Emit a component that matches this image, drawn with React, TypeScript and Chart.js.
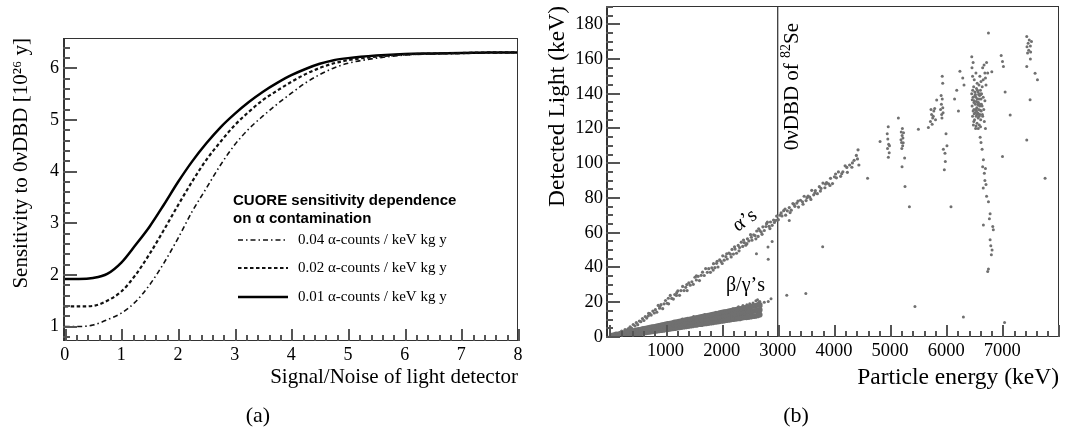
import React, { useEffect, useRef } from "react";
import { Chart, registerables } from "chart.js";

Chart.register(...registerables);

const SERIF = "'Liberation Serif', 'Times New Roman', serif";
const SANS = "'Liberation Sans', Arial, sans-serif";

// ---------------- Panel (a) ----------------
const SIGNAL_NOISE = [0, 0.25, 0.5, 0.75, 1, 1.25, 1.5, 1.75, 2, 2.25, 2.5, 2.75, 3, 3.25, 3.5, 3.75, 4, 4.25, 4.5, 4.75, 5, 5.5, 6, 6.5, 7, 7.5, 8];
const SENS_004 = [1.0, 1.0, 1.03, 1.13, 1.26, 1.48, 1.81, 2.23, 2.71, 3.23, 3.68, 4.13, 4.52, 4.83, 5.08, 5.31, 5.52, 5.72, 5.88, 6.01, 6.1, 6.2, 6.26, 6.28, 6.29, 6.3, 6.31];
const SENS_002 = [1.39, 1.39, 1.4, 1.5, 1.68, 2.0, 2.41, 2.87, 3.35, 3.81, 4.23, 4.58, 4.9, 5.16, 5.39, 5.57, 5.74, 5.89, 6.01, 6.1, 6.16, 6.23, 6.27, 6.29, 6.3, 6.31, 6.31];
const SENS_001 = [1.92, 1.92, 1.94, 2.02, 2.24, 2.58, 2.94, 3.36, 3.8, 4.2, 4.55, 4.86, 5.12, 5.35, 5.55, 5.72, 5.87, 5.99, 6.09, 6.16, 6.2, 6.25, 6.28, 6.29, 6.3, 6.31, 6.31];
const LEGEND_TITLE = ["CUORE sensitivity dependence", "on \u03b1 contamination"];
const LEGEND_LABELS = [
  "0.04 \u03b1-counts / keV kg y",
  "0.02 \u03b1-counts / keV kg y",
  "0.01 \u03b1-counts / keV kg y",
];
const A_X_TICKS = [0, 1, 2, 3, 4, 5, 6, 7, 8];
const A_Y_TICKS = [1, 2, 3, 4, 5, 6];

// ---------------- Panel (b) ----------------
const BG_ENERGY = [40, 80, 120, 160, 200, 240, 280, 320, 360, 400, 440, 480, 520, 560, 600, 640, 680, 720, 760, 800, 840, 880, 920, 960, 1000, 1040, 1080, 1120, 1160, 1200, 1240, 1280, 1320, 1360, 1400, 1440, 1480, 1520, 1560, 1600, 1640, 1680, 1720, 1760, 1800, 1840, 1880, 1920, 1960, 2000, 2040, 2080, 2120, 2160, 2200, 2240, 2280, 2320, 2360, 2400, 2440, 2480, 2520, 2560, 2600, 2640, 2680];
const BG_LIGHT_LOW = [0.1, 0.0, 0.1, 0.3, 0.4, 0.5, 0.8, 1.0, 1.1, 1.4, 1.5, 1.8, 1.9, 2.2, 2.3, 2.6, 2.7, 2.9, 3.2, 3.3, 3.5, 3.8, 3.9, 4.1, 4.3, 4.5, 4.7, 4.9, 5.1, 5.2, 5.5, 5.6, 5.9, 6.1, 6.2, 6.5, 6.6, 6.9, 7.0, 7.3, 7.4, 7.7, 7.8, 8.0, 8.2, 8.4, 8.6, 8.8, 9.0, 9.2, 9.4, 9.6, 9.8, 10.0, 10.2, 10.4, 10.6, 10.7, 11.0, 11.2, 11.3, 11.6, 11.7, 12.0, 12.1, 12.4, 12.8];
const BG_LIGHT_MID = [0.3, 0.5, 0.6, 1.0, 1.2, 1.3, 1.7, 1.8, 2.2, 2.3, 2.6, 2.7, 3.1, 3.2, 3.5, 3.8, 3.9, 4.2, 4.5, 4.6, 4.9, 5.0, 5.4, 5.5, 5.8, 6.1, 6.2, 6.5, 6.8, 6.9, 7.2, 7.4, 7.7, 7.8, 8.2, 8.3, 8.6, 8.8, 9.1, 9.2, 9.6, 9.7, 10.0, 10.2, 10.5, 10.6, 10.9, 11.2, 11.3, 11.6, 11.8, 12.1, 12.3, 12.5, 12.8, 13.0, 13.2, 13.5, 13.7, 13.9, 14.2, 14.4, 14.6, 14.9, 15.1, 15.3, 15.6];
const BG_LIGHT_HIGH = [0.9, 1.1, 1.5, 1.6, 2.0, 2.3, 2.4, 2.8, 3.0, 3.3, 3.6, 3.8, 4.1, 4.3, 4.7, 4.8, 5.2, 5.4, 5.7, 5.9, 6.2, 6.5, 6.8, 7.0, 7.3, 7.6, 7.8, 8.1, 8.4, 8.6, 8.9, 9.2, 9.4, 9.7, 10.0, 10.2, 10.5, 10.8, 11.0, 11.3, 11.6, 11.9, 12.1, 12.4, 12.6, 12.9, 13.2, 13.4, 13.8, 14.0, 14.3, 14.5, 14.8, 15.1, 15.3, 15.6, 15.9, 16.1, 16.4, 16.7, 17.0, 17.2, 17.5, 17.8, 18.0, 18.4, 18.6];
const BG_EXTRA = [[2560, 19.5], [2610, 20.8], [2640, 21.5], [2660, 19.8], [2680, 20.5], [2500, 19.2], [2450, 18.6], [2380, 18.1], [2700, 17.5], [2690, 14], [2300, 17.4], [2200, 16.2], [2100, 15.3], [1900, 14.3], [1700, 12.9], [1500, 11.8], [1300, 10.4], [2590, 11.5], [2650, 12], [2480, 10.8]];

const ALPHA_BAND = [[150, 1.9], [185, 2.1], [220, 3.4], [250, 2.6], [280, 4.3], [310, 4.0], [340, 4.9], [370, 5.9], [395, 5.1], [425, 7.2], [455, 6.4], [480, 8.3], [505, 7.1], [535, 9.2], [560, 8.8], [590, 10.6], [615, 9.5], [640, 11.8], [665, 10.9], [695, 12.2], [720, 13.5], [745, 12.6], [775, 14.9], [800, 13.8],
  [820, 15.7], [845, 14.3], [870, 18.2], [895, 16.6], [920, 18.6], [950, 16.3], [975, 19.1], [1000, 21.0], [1030, 19.4], [1055, 19.1], [1085, 23.9], [1110, 22.2], [1140, 21.8], [1165, 24.4], [1195, 23.9], [1220, 26.6], [1250, 24.0], [1275, 26.7], [1305, 29.1], [1330, 26.7], [1360, 28.6], [1385, 26.7], [1415, 31.1], [1440, 29.8], [1470, 31.8], [1495, 30.3], [1525, 34.4], [1550, 32.8], [1580, 34.9], [1605, 32.5], [1635, 35.5], [1660, 37.3], [1690, 35.4], [1715, 39.4], [1745, 37.2], [1770, 39.3], [1800, 37.2], [1825, 39.8], [1855, 42.2], [1880, 39.9], [1910, 42.4], [1935, 40.3], [1965, 44.4], [1990, 43.4],
  [2020, 46.7], [2045, 44.2], [2075, 46.3], [2100, 44.9], [2130, 48.3], [2155, 47.7], [2185, 50.4], [2210, 47.7], [2240, 50.6], [2265, 48.2], [2295, 52.7], [2320, 51.5], [2350, 54.6], [2375, 52.1], [2405, 54.3], [2430, 52.8], [2460, 56.5], [2485, 55.3], [2515, 58.9], [2540, 55.7], [2570, 58.8], [2595, 58.4], [2625, 61.0], [2650, 57.9], [2680, 61.2], [2705, 60.4], [2735, 63.4], [2760, 61.3], [2790, 63.6], [2815, 66.1], [2845, 63.7], [2870, 66.2], [2900, 64.3], [2925, 67.3], [2955, 67.0], [2980, 69.6],
  [3010, 67.5], [3040, 70.1], [3075, 69.7], [3105, 72.7], [3140, 70.1], [3170, 72.6], [3205, 74.5], [3240, 73.0], [3270, 76.8], [3305, 75.2], [3340, 77.1], [3370, 74.8], [3405, 78.7], [3440, 77.8], [3470, 81.0], [3505, 78.5], [3540, 81.1], [3570, 80.5], [3605, 84.4], [3640, 81.8], [3670, 84.2], [3705, 82.5], [3740, 86.5], [3770, 85.5], [3805, 88.6], [3840, 85.9], [3870, 88.9], [3905, 88.2], [3940, 91.3], [3975, 88.3], [4010, 92.2], [4045, 91.6], [4080, 95.0], [4120, 92.5], [4160, 95.1], [4200, 98.5], [4240, 94.8], [4280, 99.0], [4320, 97.7], [4360, 101.7], [4400, 104.5], [4430, 107.7], [4445, 99.0],
  [1850, 38.5], [1920, 43.6], [2010, 42.3], [2090, 47.9], [2170, 46.1], [2230, 51.9], [2310, 49.6], [2390, 55.8], [2450, 53.7], [2530, 57.4], [2610, 56.5], [2660, 62.3], [2720, 59.1], [2800, 65.2], [2860, 62.4], [2940, 65.9], [2990, 67.3], [3060, 71.4], [3130, 73.6], [3220, 71.6], [3290, 76.3], [3360, 78.2], [3450, 76.4], [3520, 80.2], [3590, 79.2], [3660, 82.9], [3760, 84.0], [3850, 88.0], [3930, 87.2], [4030, 93.8], [4140, 94.0], [4230, 97.6], [4330, 100.2], [4420, 102.5], [1550, 35.2], [1380, 30.2], [1200, 25.5], [1050, 22.3], [900, 17.4], [700, 13.6]];
const STRAY_EVENTS = [[2620, 47.9], [2826, 51.8], [2830, 44.8], [2900, 55], [2760, 20], [2830, 20.5], [2880, 22], [3205, 67], [3160, 24], [3500, 25], [3800, 52], [4600, 91.4], [5444, 17.6], [6307, 11.5], [7040, 8.4], [7762, 91.4]];
const PEAK_5000 = [[4822, 112.5], [4968, 121], [4960, 114], [4975, 111], [4955, 108.5], [4985, 106], [4970, 103.5], [4990, 110], [4950, 117]];
const PEAK_5200 = [[5148, 126], [5200, 118], [5215, 116], [5230, 114.5], [5205, 112], [5225, 110], [5210, 108.5], [5240, 117.5], [5195, 113.5], [5220, 120], [5235, 111.8], [5214, 98], [5267, 86.6], [5345, 75], [5260, 103], [5505, 119.6], [5683, 120.6]];
const PEAK_5800 = [[5720, 124], [5740, 128], [5760, 126], [5750, 122.5], [5780, 130], [5770, 127], [5795, 131.5], [5810, 125], [5831, 136.4], [5730, 131], [5900, 131], [5915, 134], [5930, 137], [5920, 128], [5940, 132], [5925, 126], [5945, 129], [5910, 139], [5938, 146], [5930, 150], [5997, 117], [6014, 110], [5979, 105.8], [5967, 96.2], [6086, 75], [5950, 108], [5985, 101], [6188, 142], [6218, 130], [6295, 149], [6318, 145], [6150, 137], [6245, 153]];
const PEAK_6500 = [[6455, 140], [6462, 133], [6470, 127], [6478, 138], [6485, 122], [6490, 144], [6495, 131], [6500, 136], [6505, 125], [6510, 141], [6515, 129], [6520, 134], [6525, 120], [6530, 138], [6535, 127], [6540, 143], [6545, 132], [6550, 123], [6555, 137], [6560, 129], [6565, 141], [6570, 126], [6575, 135], [6580, 131], [6585, 145], [6590, 122], [6595, 139], [6600, 128], [6605, 134], [6610, 142], [6615, 125], [6620, 137], [6625, 130], [6630, 140], [6640, 133], [6650, 127], [6660, 138], [6670, 131], [6680, 124], [6690, 136], [6465, 136.5], [6480, 130], [6500, 128.5], [6512, 139], [6528, 131], [6538, 135.5], [6548, 128], [6558, 142], [6568, 133.5], [6578, 139.5], [6588, 127], [6598, 133], [6608, 130.5], [6618, 139.5], [6628, 134], [6472, 142], [6492, 124], [6532, 121.5], [6552, 146], [6572, 120], [6612, 121], [6642, 144], [6520, 139.5], [6560, 135], [6585, 137], [6540, 130], [6600, 140], [6575, 128.5], [6495, 135], [6645, 128],
  [6456, 161.3], [6460, 155], [6470, 150], [6480, 158], [6500, 148], [6530, 152], [6600, 150], [6620, 147], [6650, 155], [6675, 156.6], [6690, 152], [6700, 149], [6720, 158], [6740, 152], [6753, 175], [6710, 145], [6660, 148],
  [6605, 115], [6620, 112], [6640, 108], [6663, 102], [6650, 98], [6680, 94.3], [6700, 97], [6690, 90], [6710, 87.7], [6660, 85.7], [6720, 81], [6753, 77.8], [6783, 71], [6770, 68], [6663, 64.5], [6830, 63.6], [6840, 61.7], [6783, 56], [6795, 52.5], [6818, 50], [6805, 47.3], [6753, 39.1], [6740, 37.7], [6700, 120],
  [6813, 152.7], [6980, 162], [7003, 158.5], [7020, 155.7], [7050, 141], [7140, 127.8], [7003, 103.9]];
const PEAK_7400 = [[7436, 172.9], [7440, 167], [7460, 169], [7480, 171], [7500, 167.5], [7505, 164], [7520, 170], [7470, 165], [7450, 163.5], [7436, 155.7], [7495, 136.5], [7584, 151.8], [7626, 148], [7436, 113.4], [7500, 160]];
const Q_VALUE_SE82 = 3000;
const B_X_TICKS = [1000, 2000, 3000, 4000, 5000, 6000, 7000];
const B_Y_TICKS = [0, 20, 40, 60, 80, 100, 120, 140, 160, 180];
const ALPHA_LABEL_AT = [2415, 67];
const BG_LABEL_AT = [2424, 29.5];
const Q_LABEL_LIGHT = 107.5;

// ---------------- plugins ----------------
function makeFrameTicks(o: any) {
  return {
    id: "frameTicks",
    afterDraw(chart: any) {
      const ctx = chart.ctx;
      const a = chart.chartArea;
      const xs = chart.scales.x;
      const ys = chart.scales.y;
      const L = Math.round(a.left);
      const R = Math.round(a.right);
      const T = Math.round(a.top);
      const B = Math.round(a.bottom);
      ctx.save();
      ctx.fillStyle = o.frameColor;
      ctx.fillRect(L, T, R - L, 1);
      ctx.fillRect(L, B - 1, R - L, 1);
      ctx.fillRect(L, T, 2, B - T);
      ctx.fillRect(R - 1, T, 1, B - T);
      ctx.fillStyle = o.color;
      const drawX = (step: number, len: number) => {
        const i0 = Math.ceil(Number(xs.min) / step - 1e-6);
        const i1 = Math.floor(Number(xs.max) / step + 1e-6);
        for (let i = i0; i <= i1; i++) {
          const px = Math.round(xs.getPixelForValue(i * step));
          ctx.fillRect(px, B - len, 2, len);
        }
      };
      const drawY = (step: number, len: number) => {
        const i0 = Math.ceil(Number(ys.min) / step - 1e-6);
        const i1 = Math.floor(Number(ys.max) / step + 1e-6);
        for (let i = i0; i <= i1; i++) {
          const py = Math.round(ys.getPixelForValue(i * step));
          ctx.fillRect(L, py - 1, len, 2);
        }
      };
      drawX(o.xMinor, o.xMinorLen);
      drawX(o.xMajor, o.xMajorLen);
      drawY(o.yMinor, o.yMinorLen);
      drawY(o.yMajor, o.yMajorLen);
      ctx.restore();
    },
  };
}

const sensLegend = {
  id: "sensLegend",
  afterDraw(chart: any) {
    const { ctx } = chart;
    ctx.save();
    ctx.fillStyle = "#000";
    ctx.textBaseline = "middle";
    ctx.textAlign = "left";
    ctx.font = `bold 15px ${SANS}`;
    ctx.fillText(LEGEND_TITLE[0], 233, 201);
    ctx.fillText(LEGEND_TITLE[1], 233, 219);
    const rows = [240, 268, 297];
    chart.data.datasets.forEach((ds: any, i: number) => {
      ctx.beginPath();
      ctx.setLineDash(ds.borderDash || []);
      ctx.lineWidth = ds.borderWidth;
      ctx.strokeStyle = ds.borderColor;
      ctx.moveTo(238, rows[i]);
      ctx.lineTo(288, rows[i]);
      ctx.stroke();
      ctx.setLineDash([]);
      ctx.font = `15px ${SERIF}`;
      ctx.fillText(LEGEND_LABELS[i], 298, rows[i]);
    });
    ctx.restore();
  },
};

const particleLabels = {
  id: "particleLabels",
  afterDraw(chart: any) {
    const { ctx, scales } = chart;
    const xs = scales.x;
    const ys = scales.y;
    ctx.save();
    ctx.fillStyle = "#000";
    ctx.textAlign = "center";
    ctx.textBaseline = "middle";
    ctx.font = `20px ${SERIF}`;
    ctx.save();
    ctx.translate(xs.getPixelForValue(ALPHA_LABEL_AT[0]), ys.getPixelForValue(ALPHA_LABEL_AT[1]));
    ctx.rotate((-35 * Math.PI) / 180);
    ctx.fillText("\u03b1\u2019s", 0, 0);
    ctx.restore();
    ctx.fillText("\u03b2/\u03b3\u2019s", xs.getPixelForValue(BG_LABEL_AT[0]), ys.getPixelForValue(BG_LABEL_AT[1]));
    ctx.save();
    ctx.translate(xs.getPixelForValue(Q_VALUE_SE82) + 13, ys.getPixelForValue(Q_LABEL_LIGHT));
    ctx.rotate(-Math.PI / 2);
    ctx.textAlign = "left";
    ctx.textBaseline = "alphabetic";
    const base = 7;
    ctx.font = `21px ${SERIF}`;
    const t1 = "0\u03bdDBD of ";
    ctx.fillText(t1, 0, base);
    let x = ctx.measureText(t1).width;
    ctx.font = `14px ${SERIF}`;
    ctx.fillText("82", x, base - 8);
    x += ctx.measureText("82").width;
    ctx.font = `21px ${SERIF}`;
    ctx.fillText("Se", x, base);
    ctx.restore();
    ctx.restore();
  },
};

const pts = (arr: number[][]) => arr.map(([x, y]) => ({ x, y }));
const plain = (v: any) => String(v);

function tickFont(size: number) {
  return { family: SERIF, size };
}

function makeSensChart(canvas: HTMLCanvasElement) {
  const mk = (ys: number[]) => SIGNAL_NOISE.map((x, i) => ({ x, y: ys[i] }));
  return new Chart(canvas, {
    type: "line",
    data: {
      datasets: [
        { label: LEGEND_LABELS[0], data: mk(SENS_004), borderColor: "#111", borderWidth: 1.6, borderDash: [5, 3, 1.5, 3], pointRadius: 0, cubicInterpolationMode: "monotone" },
        { label: LEGEND_LABELS[1], data: mk(SENS_002), borderColor: "#111", borderWidth: 2.2, borderDash: [3.5, 2.5], pointRadius: 0, cubicInterpolationMode: "monotone" },
        { label: LEGEND_LABELS[2], data: mk(SENS_001), borderColor: "#000", borderWidth: 2.5, pointRadius: 0, cubicInterpolationMode: "monotone" },
      ],
    } as any,
    options: {
      responsive: false,
      animation: false,
      devicePixelRatio: 1,
      events: [],
      layout: { padding: { top: 38, right: 16, left: 0, bottom: 0 } },
      plugins: { legend: { display: false }, tooltip: { enabled: false } },
      scales: {
        x: {
          type: "linear",
          min: -0.03,
          max: 8.0,
          afterBuildTicks: (s: any) => { s.ticks = A_X_TICKS.map((v) => ({ value: v })); },
          afterFit: (s: any) => { s.height = 95; s.paddingLeft = 0; s.paddingRight = 0; },
          grid: { display: false, drawTicks: false },
          border: { display: false },
          ticks: { font: tickFont(18), color: "#000", padding: 3, autoSkip: false, maxRotation: 0, callback: plain },
          title: { display: true, text: "Signal/Noise of light detector", align: "end", color: "#000", font: { family: SERIF, size: 21 }, padding: { top: 0, bottom: 46 } },
        },
        y: {
          type: "linear",
          min: 0.72,
          max: 6.59,
          afterBuildTicks: (s: any) => { s.ticks = A_Y_TICKS.map((v) => ({ value: v })); },
          afterFit: (s: any) => { s.width = 63; s.paddingTop = 0; s.paddingBottom = 0; },
          grid: { display: false, drawTicks: false },
          border: { display: false },
          ticks: { font: tickFont(18), color: "#000", padding: 4, callback: plain },
          title: { display: true, text: "Sensitivity to 0\u03bdDBD [10\u00b2\u2076 y]", align: "end", color: "#000", font: { family: SERIF, size: 21 }, padding: { top: 9, bottom: 0 } },
        },
      },
    } as any,
    plugins: [
      makeFrameTicks({ xMajor: 1, xMinor: 0.2, xMajorLen: 12, xMinorLen: 6, yMajor: 1, yMinor: 0.2, yMajorLen: 14, yMinorLen: 7, color: "#555", frameColor: "#333" }),
      sensLegend,
    ],
  });
}

function makeLightChart(canvas: HTMLCanvasElement) {
  const bg: { x: number; y: number }[] = [];
  BG_ENERGY.forEach((e, i) => {
    [BG_LIGHT_LOW[i], BG_LIGHT_MID[i], BG_LIGHT_HIGH[i]].forEach((l) => {
      if (l !== undefined) bg.push({ x: e, y: l });
    });
  });
  const gray = "#707070";
  const sc = (data: any, r: number) => ({ data, pointRadius: r, pointBackgroundColor: gray, pointBorderWidth: 0, showLine: false });
  return new Chart(canvas, {
    type: "scatter",
    data: {
      datasets: [
        sc(bg, 2.8),
        sc(pts(BG_EXTRA), 1.5),
        sc(pts(ALPHA_BAND), 1.6),
        sc(pts(STRAY_EVENTS), 1.5),
        sc(pts(PEAK_5000), 1.5),
        sc(pts(PEAK_5200), 1.5),
        sc(pts(PEAK_5800), 1.5),
        sc(pts(PEAK_6500), 1.5),
        sc(pts(PEAK_7400), 1.5),
        { data: [{ x: Q_VALUE_SE82, y: 0 }, { x: Q_VALUE_SE82, y: 190.5 }], showLine: true, borderColor: "#000", borderWidth: 1, pointRadius: 0 },
      ],
    } as any,
    options: {
      responsive: false,
      animation: false,
      devicePixelRatio: 1,
      events: [],
      layout: { padding: { top: 6, right: 9, left: 0, bottom: 0 } },
      plugins: { legend: { display: false }, tooltip: { enabled: false } },
      scales: {
        x: {
          type: "linear",
          min: -60,
          max: 8010,
          afterBuildTicks: (s: any) => { s.ticks = B_X_TICKS.map((v) => ({ value: v })); },
          afterFit: (s: any) => { s.height = 99; s.paddingLeft = 0; s.paddingRight = 0; },
          grid: { display: false, drawTicks: false },
          border: { display: false },
          ticks: { font: tickFont(18.5), color: "#000", padding: 3, autoSkip: false, maxRotation: 0, callback: plain },
          title: { display: true, text: "Particle energy (keV)", align: "end", color: "#000", font: { family: SERIF, size: 23.5 }, padding: { top: 0, bottom: 44 } },
        },
        y: {
          type: "linear",
          min: 0,
          max: 190.5,
          afterBuildTicks: (s: any) => { s.ticks = B_Y_TICKS.map((v) => ({ value: v })); },
          afterFit: (s: any) => { s.width = 72; s.paddingTop = 0; s.paddingBottom = 0; },
          grid: { display: false, drawTicks: false },
          border: { display: false },
          ticks: { font: tickFont(18.5), color: "#000", padding: 3, callback: plain },
          title: { display: true, text: "Detected Light (keV)", align: "end", color: "#000", font: { family: SERIF, size: 23.5 }, padding: { top: 10, bottom: 0 } },
        },
      },
    } as any,
    plugins: [
      makeFrameTicks({ xMajor: 1000, xMinor: 200, xMajorLen: 12, xMinorLen: 6, yMajor: 20, yMinor: 5, yMajorLen: 14, yMinorLen: 7, color: "#555", frameColor: "#333" }),
      particleLabels,
    ],
  });
}

export default function App() {
  const refA = useRef<HTMLCanvasElement>(null);
  const refB = useRef<HTMLCanvasElement>(null);
  useEffect(() => {
    const a = makeSensChart(refA.current!);
    const b = makeLightChart(refB.current!);
    return () => {
      a.destroy();
      b.destroy();
    };
  }, []);
  const cap: React.CSSProperties = {
    position: "absolute",
    top: 401,
    width: 100,
    textAlign: "center",
    fontFamily: SERIF,
    fontSize: 22,
    lineHeight: "28px",
    color: "#000",
  };
  return (
    <div style={{ position: "fixed", left: 0, top: 0, width: 1068, height: 436, background: "#fff", overflow: "hidden" }}>
      <canvas ref={refA} width={534} height={436} style={{ position: "absolute", left: 0, top: 0, width: 534, height: 436 }} />
      <canvas ref={refB} width={534} height={436} style={{ position: "absolute", left: 534, top: 0, width: 534, height: 436 }} />
      <div style={{ ...cap, left: 208 }}>(a)</div>
      <div style={{ ...cap, left: 746 }}>(b)</div>
    </div>
  );
}
